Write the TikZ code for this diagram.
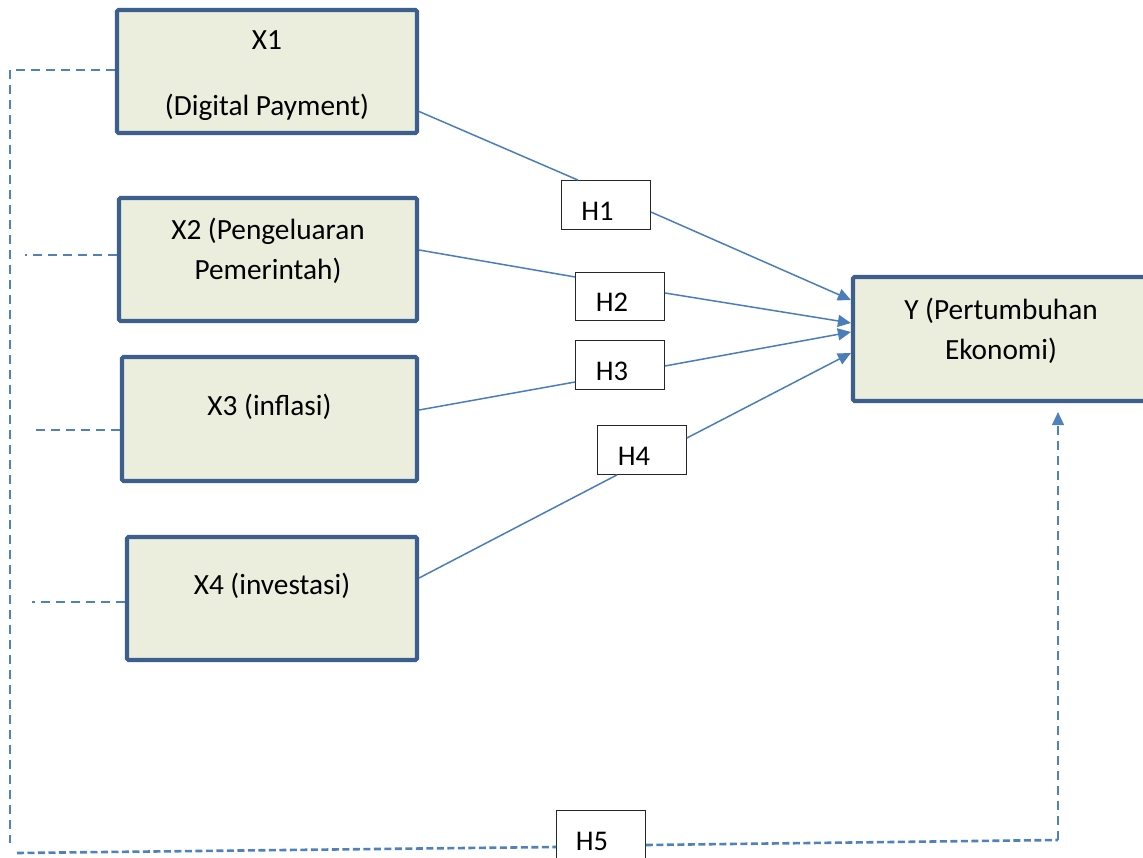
\documentclass[tikz,border=0pt]{standalone}
\usepackage{fontspec}
\setmainfont{Carlito}
\usetikzlibrary{arrows.meta,calc}
\definecolor{boxborder}{HTML}{3C5F8E}
\definecolor{boxfill}{HTML}{EBEEDD}
\definecolor{linkblue}{HTML}{4A7EBB}
\definecolor{dashblue}{HTML}{4F81BD}
\begin{document}
\begin{tikzpicture}[x=1pt,y=-1pt,
  varbox/.style={draw=boxborder,line width=4.2pt,fill=boxfill,rounded corners=1.5pt,inner sep=0pt},
  hbox/.style={draw=black!85,line width=1.3pt,fill=white,inner sep=0pt,minimum width=88.5pt,minimum height=48.5pt},
  lbl/.style={font=\fontsize{29.3}{40}\selectfont,align=center,inner sep=0pt,text=black},
  hlbl/.style={font=\fontsize{28.5}{40}\selectfont,inner sep=0pt,text=black},
  link/.style={draw=linkblue,line width=1.5pt},
  tolink/.style={link,-{Triangle[length=13pt,width=12pt]}},
  dashlink/.style={draw=dashblue,line width=1.5pt,dash pattern=on 9pt off 6pt},
  dotlink/.style={draw=dashblue,line width=2.6pt,dash pattern=on 7pt off 3.5pt}]
\clip (0,0) rectangle (1143,858);
\fill[white] (0,0) rectangle (1143,858);

% variable boxes
\node[varbox,minimum width=300pt,minimum height=123pt] (x1) at (267,71.5) {};
\node[varbox,minimum width=298pt,minimum height=123pt] (x2) at (268,259.5) {};
\node[varbox,minimum width=295pt,minimum height=124pt] (x3) at (269.5,419) {};
\node[varbox,minimum width=290pt,minimum height=123pt] (x4) at (272,598.5) {};
\node[varbox,minimum width=296pt,minimum height=124pt] (y) at (1001,339) {};

\node[lbl] (tx1) at ($(x1.center)+(0,4)$) {X1\\[26pt](Digital Payment)};
\node[lbl] (tx2) at ($(x2.center)+(0,-9)$) {X2 (Pengeluaran\\Pemerintah)};
\node[lbl] (tx3) at ($(x3.center)+(0,-12)$) {X3 (inflasi)};
\node[lbl] (tx4) at ($(x4.center)+(0,-13)$) {X4 (investasi)};
\node[lbl] (ty) at ($(y.center)+(0,-8)$) {Y (Pertumbuhan\\Ekonomi)};

% hypothesis boxes
\node[hbox] (h1) at (606,205) {};
\node[hbox] (h2) at (620,296.5) {};
\node[hbox] (h3) at (620,365) {};
\node[hbox] (h4) at (642,450) {};
\node[hbox] (h5) at (601,835) {};

% solid connectors
\draw[link] ($(x1.east)+(0,40)$) -- ($(h1.north)+(-28,0)$);
\draw[tolink] ($(h1.east)+(0,7)$) -- ($(y.west)+(0,-39)$);
\draw[link] ($(x2.east)+(0,-9.5)$) -- ($(h2.west)+(0,-19.5)$);
\draw[tolink] ($(h2.east)+(0,-3.5)$) -- ($(y.west)+(0,-16)$);
\draw[link] ($(x3.east)+(0,-9)$) -- ($(h3.west)+(0,17)$);
\draw[tolink] ($(h3.east)+(0,1)$) -- ($(y.west)+(0,-7)$);
\draw[link] ($(x4.east)+(0,-20.5)$) -- ($(h4.south)+(-25,0)$);
\draw[tolink] ($(h4.east)+(0,-12)$) -- ($(y.west)+(0,14)$);

% H labels
\node[hlbl] at ($(h1.center)+(-8.5,6)$) {H1};
\node[hlbl] at ($(h2.center)+(-8,6)$) {H2};
\node[hlbl] at ($(h3.center)+(-8,6)$) {H3};
\node[hlbl] at ($(h4.center)+(-8,6)$) {H4};
\node[hlbl] at ($(h5.center)+(-9,6)$) {H5};

% dashed simultaneous path
\coordinate (tl) at (10,70);
\coordinate (bl) at (10,843);
\coordinate (d2) at (25,255);
\coordinate (d3) at (30,430);
\coordinate (d4) at (32,602);
\coordinate (bs) at (17,853);
\coordinate (br) at (1058,840);
\draw[dashlink] ($(x1.west)+(0,-1.5)$) -- (tl) -- (bl);
\draw[dashlink] ($(x2.west)+(0,-4.5)$) -- (d2);
\draw[dashlink] ($(x3.west)+(0,11)$) -- (d3);
\draw[dashlink] ($(x4.west)+(0,3.5)$) -- (d4);
\draw[dotlink] (bs) -- ($(h5.west)+(0,12)$);
\draw[dotlink] ($(h5.east)+(0,10)$) -- (br);
\draw[dashlink,-{Triangle[length=13pt,width=12pt]}] (br) -- ($(y.south)+(57,9)$);
\end{tikzpicture}
\end{document}
